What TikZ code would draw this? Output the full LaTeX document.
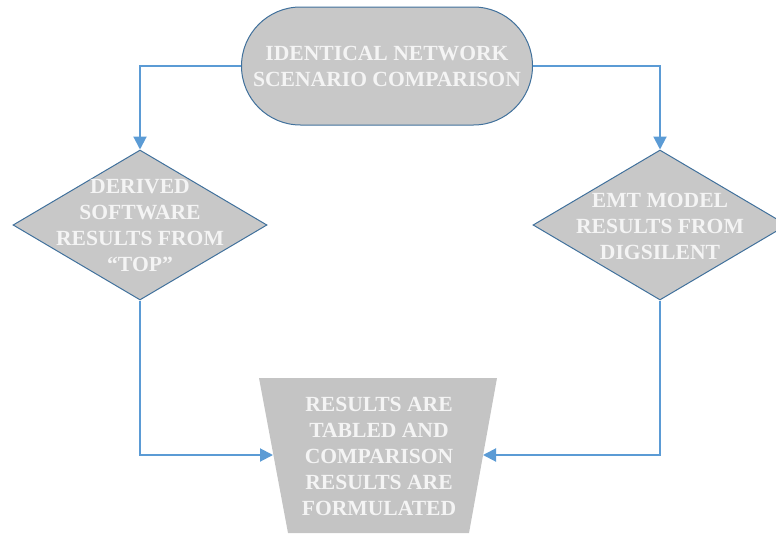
\documentclass[tikz,border=0pt]{standalone}
\usepackage{fontspec}
\setmainfont{Liberation Serif}
\usetikzlibrary{shapes.geometric,arrows.meta}
\definecolor{boxfill}{HTML}{C8C8C8}
\definecolor{boxline}{HTML}{41719C}
\definecolor{conn}{HTML}{5B9BD5}
\definecolor{txt}{HTML}{F4F4F4}
\begin{document}
\begin{tikzpicture}[x=1pt,y=-1pt,
  lbl/.style={text=txt,font=\bfseries\fontsize{21.6}{26}\selectfont,align=center,inner sep=0pt},
  termbox/.style={draw=boxline,line width=1pt,fill=boxfill,rounded corners=59pt,minimum width=291pt,minimum height=118pt,inner sep=0pt},
  decbox/.style={diamond,draw=boxline,line width=1pt,fill=boxfill,minimum width=254pt,minimum height=150pt,inner sep=0pt},
  trapfill/.style={fill=boxfill!98!black},
  conline/.style={draw=conn,line width=2pt,-{Triangle[length=13pt,width=13pt]}}]
\useasboundingbox (0,0) rectangle (776,533);
\node[termbox] (t) at (387,66) {};
\node[lbl] (tl) at (387,66) {IDENTICAL NETWORK\\SCENARIO COMPARISON};
\node[decbox] (d1) at (140,225) {};
\node[lbl] (d1l) at (140,226) {DERIVED\\SOFTWARE\\RESULTS FROM\\“TOP”};
\node[decbox] (d2) at (660,225) {};
\node[lbl] (d2l) at (660,226) {EMT MODEL\\RESULTS FROM\\DIGSILENT};
\coordinate (tz1) at (259,378);
\coordinate (tz2) at (497,378);
\coordinate (tz3) at (469,533);
\coordinate (tz4) at (288,533);
\fill[trapfill] (tz1) -- (tz2) -- (tz3) -- (tz4) -- cycle;
\coordinate (tzw) at (273,455);
\coordinate (tze) at (483,455);
\node[lbl] (tzl) at (379,456) {RESULTS ARE\\TABLED AND\\COMPARISON\\RESULTS ARE\\FORMULATED};
\draw[conline] (t.west) -| (d1.north);
\draw[conline] (t.east) -| (d2.north);
\draw[conline] (d1.south) |- (tzw);
\draw[conline] (d2.south) |- (tze);
\end{tikzpicture}
\end{document}
